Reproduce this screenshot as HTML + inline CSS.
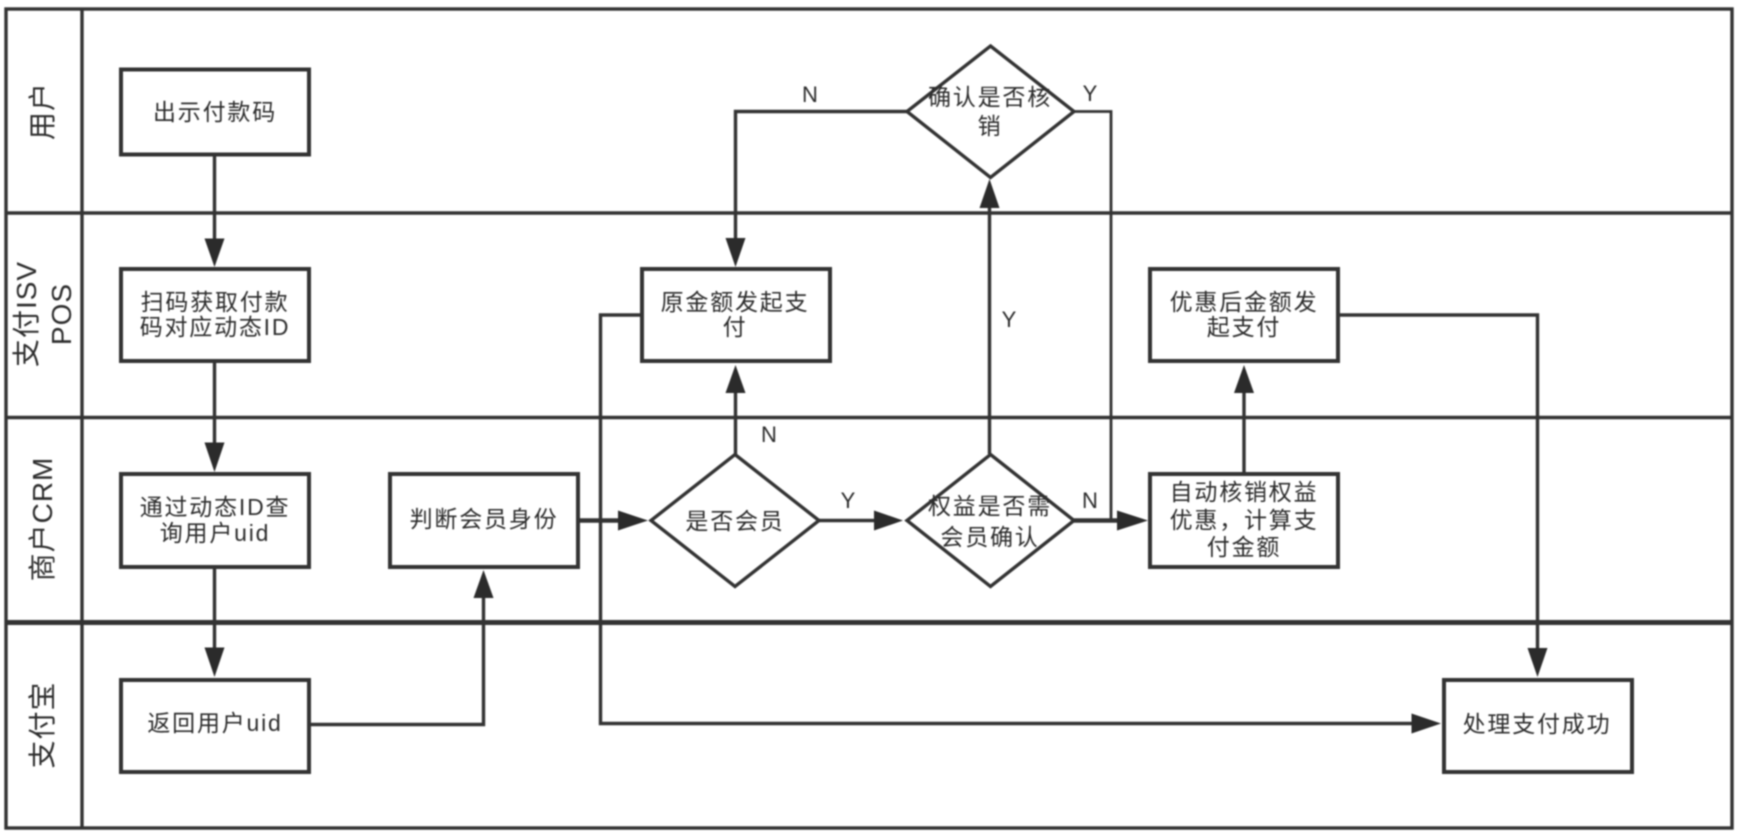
<!DOCTYPE html>
<html><head><meta charset="utf-8"><style>
html,body{margin:0;padding:0;background:#fff}
svg{display:block;filter:blur(.7px)}
text{font-family:"Liberation Sans","Noto Sans CJK SC",sans-serif;fill:#2c2c2c;text-anchor:middle;font-size:23px;letter-spacing:1.8px}
.l{font-size:22px;letter-spacing:0}
.s{font-size:28px;letter-spacing:1px}
.b{fill:#fff;stroke:#333;stroke-width:4}
.c{fill:none;stroke:#333;stroke-width:3.4}
.a{fill:#2b2b2b}
.f{fill:none;stroke:#333;stroke-width:3.4}
</style></head><body>
<svg width="1742" height="839" viewBox="0 0 1742 839" xmlns="http://www.w3.org/2000/svg">
<rect x="0" y="0" width="1742" height="839" fill="#fff"/>
<!-- lanes -->
<rect class="f" x="6" y="9" width="1726" height="819"/>
<path class="f" d="M82 9V828M6 213H1732M6 417.5H1732"/>
<path class="f" style="stroke-width:5" d="M6 622.5H1732"/>
<!-- lane labels -->
<text class="s" transform="translate(52,111) rotate(-90)">用户</text>
<text class="s" transform="translate(36,314) rotate(-90)">支付ISV</text>
<text class="s" transform="translate(71,314) rotate(-90)">POS</text>
<text class="s" transform="translate(52,519) rotate(-90)">商户CRM</text>
<text class="s" transform="translate(52,725) rotate(-90)">支付宝</text>
<!-- connectors -->
<path class="c" d="M214.5 154V240M214.5 361V444M214.5 567V649"/>
<path class="c" d="M309 724.5H483.5V597"/>
<path class="c" style="stroke-width:4.6" d="M578 520.5H620"/>
<path class="c" d="M819 520.5H876"/>
<path class="c" style="stroke-width:4.6" d="M1074 520.5H1119"/>
<path class="c" d="M735.5 454V392"/>
<path class="c" d="M989.5 454V207"/>
<path class="c" d="M907 111.5H735.5V240"/>
<path class="c" style="stroke-width:2.8" d="M1074 111.5H1111V520"/>
<path class="c" d="M1244 473V392"/>
<path class="c" d="M1338 315H1537.5V650"/>
<path class="c" d="M642 315H600.5V723.5H1413"/>
<!-- arrowheads -->
<path class="a" d="M204.5 238.5H224.5L214.5 267Z"/>
<path class="a" d="M204.5 442.5H224.5L214.5 472Z"/>
<path class="a" d="M204.5 647.5H224.5L214.5 677Z"/>
<path class="a" d="M473.5 598H493.5L483.5 570Z"/>
<path class="a" d="M618 510.5V530.5L648 520.5Z"/>
<path class="a" d="M874 510.5V530.5L903 520.5Z"/>
<path class="a" d="M1117 510.5V530.5L1148 520.5Z"/>
<path class="a" d="M725.5 393H745.5L735.5 365Z"/>
<path class="a" d="M979.5 208H999.5L989.5 179Z"/>
<path class="a" d="M725.5 238H745.5L735.5 267Z"/>
<path class="a" d="M1234 393H1254L1244 365Z"/>
<path class="a" d="M1527.5 648H1547.5L1537.5 677Z"/>
<path class="a" d="M1411.5 713.5V733.5L1441 723.5Z"/>
<!-- boxes -->
<rect class="b" x="121" y="69.5" width="188" height="85"/>
<rect class="b" x="121" y="269" width="188" height="92"/>
<rect class="b" x="642" y="269" width="188" height="92"/>
<rect class="b" x="1150" y="269" width="188" height="92"/>
<rect class="b" x="121" y="474" width="188" height="93"/>
<rect class="b" x="390" y="474" width="188" height="93"/>
<rect class="b" x="1150" y="474" width="188" height="93"/>
<rect class="b" x="121" y="680" width="188" height="92"/>
<rect class="b" x="1444" y="680" width="188" height="92"/>
<!-- diamonds -->
<polygon class="b" points="990.5,46 1074,111.5 990.5,177.5 907,111.5" style="stroke-width:3.4"/>
<polygon class="b" points="735,454.5 819,520.5 735,586.5 651,520.5" style="stroke-width:3.4"/>
<polygon class="b" points="990.5,454.5 1074,520.5 990.5,586.5 907,520.5" style="stroke-width:3.4"/>
<!-- box text -->
<text x="215" y="120">出示付款码</text>
<text x="215" y="310">扫码获取付款</text>
<text x="215" y="335">码对应动态ID</text>
<text x="735" y="310">原金额发起支</text>
<text x="735" y="335">付</text>
<text x="1244" y="310">优惠后金额发</text>
<text x="1244" y="335">起支付</text>
<text x="215" y="515">通过动态ID查</text>
<text x="215" y="541">询用户uid</text>
<text x="484" y="527">判断会员身份</text>
<text x="1244" y="500">自动核销权益</text>
<text x="1244" y="528">优惠，计算支</text>
<text x="1244" y="555">付金额</text>
<text x="215" y="731">返回用户uid</text>
<text x="1537" y="732">处理支付成功</text>
<!-- diamond text -->
<text x="990" y="105">确认是否核</text>
<text x="990" y="134">销</text>
<text x="990" y="514">权益是否需</text>
<text x="990" y="545">会员确认</text>
<text x="735" y="529">是否会员</text>
<!-- labels -->
<text class="l" x="810" y="102">N</text>
<text class="l" x="1090" y="101">Y</text>
<text class="l" x="1009" y="327">Y</text>
<text class="l" x="769" y="442">N</text>
<text class="l" x="848" y="508">Y</text>
<text class="l" x="1090" y="508">N</text>
</svg>
</body></html>
